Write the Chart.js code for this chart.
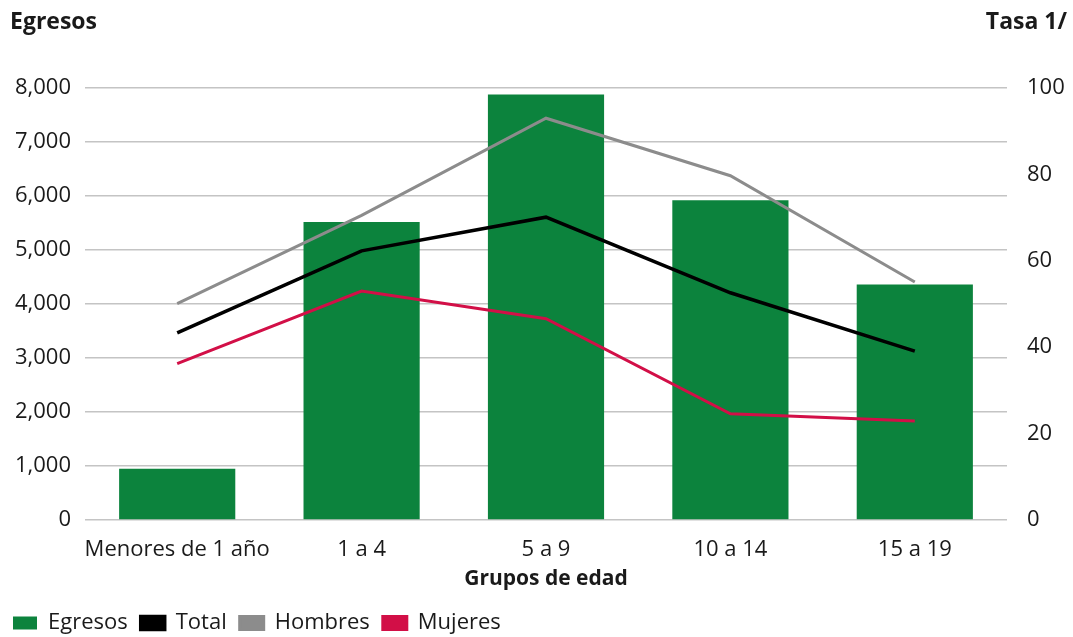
<!DOCTYPE html>
<html>
<head>
<meta charset="utf-8">
<script src="https://cdn.jsdelivr.net/npm/chart.js@4/dist/chart.umd.min.js"></script>
<style>
  html, body { margin: 0; padding: 0; background: #fff; }
  #wrap { width: 1073px; height: 637px; }
</style>
</head>
<body>
<div id="wrap"><canvas id="grafica"></canvas></div>
<script>
// Datos
const grupos = ["Menores de 1 año", "1 a 4", "5 a 9", "10 a 14", "15 a 19"];
const egresos = [950, 5520, 7880, 5920, 4360];
const tasaTotal = [43.3, 62.3, 70.1, 52.6, 39.1];
const tasaHombres = [50.1, 70.5, 93.0, 79.7, 55.1];
const tasaMujeres = [36.2, 53.0, 46.6, 24.6, 22.9];

const ejeEgresos = { min: 0, max: 8000, paso: 1000 };
const ejeTasa = { min: 0, max: 100, paso: 20 };

const fuente = "'Open Sans', 'DejaVu Sans', sans-serif";
const texto = "#1a1a1a";
const verde = "#0c833d";
const rojo = "#d20f47";
const gris = "#8c8c8c";

// Títulos de los ejes verticales, arriba de cada eje
const encabezados = {
    id: "encabezados",
    afterDraw(chart) {
        const ctx = chart.ctx;
        ctx.save();
        ctx.font = "bold 23px " + fuente;
        ctx.fillStyle = texto;
        ctx.textBaseline = "middle";
        ctx.textAlign = "left";
        ctx.fillText("Egresos", 10, 22);
        ctx.textAlign = "right";
        ctx.fillText("Tasa 1/", 1067, 22);
        ctx.restore();
    }
};

// Baja un poco la leyenda
const bajarLeyenda = {
    id: "bajarLeyenda",
    afterLayout(chart) {
        chart.legend.top += 7;
        chart.legend.bottom += 7;
    }
};

const ctx = document.getElementById("grafica").getContext("2d");
new Chart(ctx, {
    data: {
        labels: grupos,
        datasets: [
            {
                type: "bar",
                label: "Egresos",
                data: egresos,
                backgroundColor: verde,
                yAxisID: "y",
                barPercentage: 0.63,
                categoryPercentage: 1,
                order: 5
            },
            {
                type: "line",
                label: "Total",
                data: tasaTotal,
                borderColor: "#000",
                backgroundColor: "#000",
                borderWidth: 3.5,
                pointRadius: 0,
                tension: 0,
                yAxisID: "y1",
                order: 1
            },
            {
                type: "line",
                label: "Hombres",
                data: tasaHombres,
                borderColor: gris,
                backgroundColor: gris,
                borderWidth: 3,
                pointRadius: 0,
                tension: 0,
                yAxisID: "y1",
                order: 2
            },
            {
                type: "line",
                label: "Mujeres",
                data: tasaMujeres,
                borderColor: rojo,
                backgroundColor: rojo,
                borderWidth: 3,
                pointRadius: 0,
                tension: 0,
                yAxisID: "y1",
                order: 3
            }
        ]
    },
    options: {
        responsive: true,
        maintainAspectRatio: false,
        animation: false,
        layout: { padding: { top: 88, left: 0, right: 0, bottom: 0 } },
        plugins: {
            tooltip: { enabled: false },
            legend: {
                position: "bottom",
                align: "start",
                labels: {
                    sort: (a, b) => a.datasetIndex - b.datasetIndex,
                    boxWidth: 24,
                    boxHeight: 13,
                    padding: 13,
                    color: texto,
                    font: { family: fuente, size: 22 }
                }
            }
        },
        scales: {
            x: {
                offset: true,
                grid: { display: false },
                border: { display: false },
                ticks: {
                    color: texto,
                    padding: 9,
                    autoSkip: false,
                    maxRotation: 0,
                    font: { family: fuente, size: 22 }
                },
                title: {
                    display: true,
                    text: "Grupos de edad",
                    color: texto,
                    font: { family: fuente, size: 21, weight: "bold" },
                    padding: { top: 0, bottom: 0 }
                },
                afterFit(scale) { scale.height = 72; }
            },
            y: {
                position: "left",
                min: ejeEgresos.min,
                max: ejeEgresos.max,
                border: { display: false },
                grid: { color: "#c4c4c4", lineWidth: 1.5, drawTicks: false },
                ticks: {
                    stepSize: ejeEgresos.paso,
                    padding: 14,
                    color: texto,
                    font: { family: fuente, size: 22 },
                    callback: (v) => v.toLocaleString("en-US")
                },
                afterFit(scale) { scale.width = 85; }
            },
            y1: {
                position: "right",
                min: ejeTasa.min,
                max: ejeTasa.max,
                border: { display: false },
                grid: { display: false, drawTicks: false },
                ticks: {
                    stepSize: ejeTasa.paso,
                    padding: 20,
                    color: texto,
                    font: { family: fuente, size: 22 }
                },
                afterFit(scale) { scale.width = 66; }
            }
        }
    },
    plugins: [encabezados, bajarLeyenda]
});
</script>
</body>
</html>
